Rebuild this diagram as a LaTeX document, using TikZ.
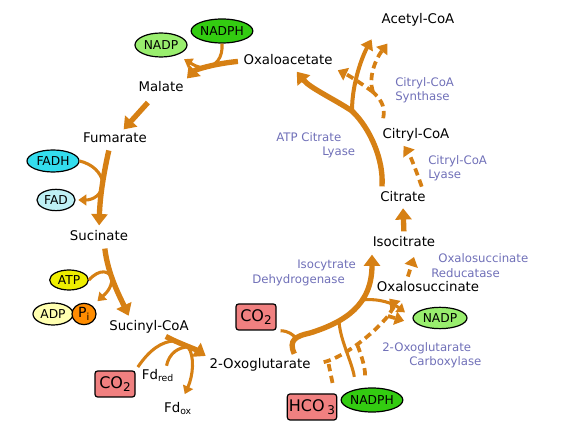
\documentclass[tikz,border=0pt]{standalone}
\usepackage{fontspec}
\setmainfont{DejaVu Sans}
\usetikzlibrary{arrows.meta,shapes.geometric}

\definecolor{pathorange}{RGB}{214,128,20}
\definecolor{enzblue}{RGB}{112,112,184}
\definecolor{nadpgreen}{RGB}{153,238,110}
\definecolor{nadphgreen}{RGB}{51,204,17}
\definecolor{fadhcyan}{RGB}{51,221,238}
\definecolor{fadcyan}{RGB}{190,240,245}
\definecolor{atpyellow}{RGB}{238,238,0}
\definecolor{adpyellow}{RGB}{255,255,176}
\definecolor{piorange}{RGB}{255,140,0}
\definecolor{gasred}{RGB}{240,128,128}

\newcommand{\gassub}[1]{\raisebox{-0.35ex}{\fontsize{9}{9}\selectfont #1}}

\tikzset{
  metab/.style={inner sep=1pt, text height=7pt, text depth=2pt, font=\fontsize{10}{12}\selectfont},
  enzyme/.style={inner sep=0pt, text=enzblue, align=left, font=\fontsize{8.8}{10.5}\selectfont},
  cofac/.style={ellipse, draw, line width=0.9pt, inner sep=0pt, font=\fontsize{9.2}{10}\selectfont},
  gas/.style={draw, rounded corners=2pt, line width=0.9pt, fill=gasred, inner sep=0pt,
    minimum width=30pt, minimum height=19.5pt, font=\fontsize{12}{12}\selectfont},
  mainarr/.style={draw=pathorange, line width=4pt, -{Triangle[width=12pt,length=8.5pt]}},
  midarr/.style={draw=pathorange, line width=3pt, -{Triangle[width=10pt,length=7.5pt]}},
  sideline/.style={draw=pathorange, line width=2.3pt},
  sidearr/.style={sideline, -{Triangle[width=8pt,length=6pt]}},
  altline/.style={draw=pathorange, line width=2.8pt, dash pattern=on 5.5pt off 3.5pt},
  altarr/.style={altline, -{Triangle[width=10pt,length=7pt]}}
}

\begin{document}
\begin{tikzpicture}[x=0.75pt,y=-0.75pt]
\useasboundingbox (0,0) rectangle (562,438);

% metabolites
\node[metab] (acetyl) at (418,20) {Acetyl-CoA};
\node[metab] (oxalo) at (288,61) {Oxaloacetate};
\node[metab] (malate) at (161,88) {Malate};
\node[metab] (fumarate) at (115,139) {Fumarate};
\node[metab] (sucinate) at (99,237) {Sucinate};
\node[metab] (sucinyl) at (149,327) {Sucinyl-CoA};
\node[metab] (oxoglut) at (260,365) {2-Oxoglutarate};
\node[metab] (oxsucc) at (428,288) {Oxalosuccinate};
\node[metab] (isocit) at (404,243) {Isocitrate};
\node[metab] (citrate) at (403,198) {Citrate};
\node[metab] (citryl) at (416,135) {Citryl-CoA};
\node[metab] (fdred) at (158,376) {Fd\textsubscript{red}};
\node[metab] (fdox) at (178,409) {Fd\textsubscript{ox}};

% cofactors
\node[cofac, fill=nadpgreen, minimum width=39pt, minimum height=18pt] (nadpT) at (161,45) {NADP};
\node[cofac, fill=nadphgreen, minimum width=40pt, minimum height=18pt] (nadphT) at (222,31) {NADPH};
\node[cofac, fill=fadhcyan, minimum width=39pt, minimum height=16.5pt] (fadh) at (53,161) {FADH};
\node[cofac, fill=fadcyan, minimum width=28.5pt, minimum height=16pt] (fad) at (56,200) {FAD};
\node[cofac, fill=atpyellow, minimum width=29pt, minimum height=15pt] (atp) at (69,280) {ATP};
\node[cofac, fill=adpyellow, minimum width=30pt, minimum height=16.5pt] (adp) at (53,314) {ADP};
\node[cofac, fill=piorange, minimum width=18pt, minimum height=16pt, font=\fontsize{10.5}{10}\selectfont] (pi) at (84,314) {P\textsubscript{i}};
\node[cofac, fill=nadpgreen, minimum width=40.5pt, minimum height=16pt] (nadpR) at (440,318) {NADP};
\node[cofac, fill=nadphgreen, minimum width=39pt, minimum height=18pt] (nadphB) at (372,400) {NADPH};
\node[gas] (co2a) at (115,384) {CO\gassub{2}};
\node[gas] (co2b) at (256,317) {CO\gassub{2}};
\node[gas, minimum width=37pt] (hco3) at (312,407) {HCO\,\gassub{3}};

% enzymes
\node[enzyme, anchor=west] (acl) at (276,137) {ATP Citrate};
\node[enzyme, anchor=west] (acl2) at (322,152) {Lyase};
\node[enzyme, anchor=west] (ccs) at (395,90) {Citryl-CoA\\Synthase};
\node[enzyme, anchor=west] (ccl) at (428,168) {Citryl-CoA\\Lyase};
\node[enzyme, anchor=west] (idh) at (297,265) {Isocytrate};
\node[enzyme, anchor=west] (idh2) at (252,280) {Dehydrogenase};
\node[enzyme, anchor=west] (osr) at (438,258) {Oxalosuccinate};
\node[enzyme, anchor=west] (osr2) at (431,273) {Reducatase};
\node[enzyme, anchor=west] (ogc) at (382,348) {2-Oxoglutarate};
\node[enzyme, anchor=west] (ogc2) at (409,362) {Carboxylase};

% junctions
\coordinate (jmal) at (205,68);
\coordinate (jfum) at (103,183);
\coordinate (jsuc) at (112,278);
\coordinate (jco2) at (173,341);
\coordinate (jfd) at (188,347);
\coordinate (jiso0) at (296,338);
\coordinate (jiso2) at (339,321);
\coordinate (jiso3) at (362,300);
\coordinate (jalt0) at (328,361);
\coordinate (jalt1) at (357,344);
\coordinate (jalt2) at (388,316);
\coordinate (jacl) at (352,111);
\coordinate (jccs) at (373,92);

% oxaloacetate -> malate
\draw[mainarr, shorten <=3pt, shorten >=2pt] (oxalo.west) .. controls (212,64) and (195,70) .. (malate.north east);
\draw[sideline] (nadphT.south) .. controls (223,58) and (216,66) .. (jmal);
\draw[sidearr, shorten >=6pt] (jmal) .. controls (198,68) and (192,64) .. (nadpT);

% malate -> fumarate -> sucinate
\draw[mainarr, shorten <=7pt, shorten >=2pt] (malate) -- (fumarate);
\draw[mainarr, shorten <=3pt, shorten >=3pt] ([xshift=-4]fumarate.south) .. controls (104,172) and (100,195) .. (sucinate.north);
\draw[sideline] (fadh.east) .. controls (92,164) and (101,172) .. (jfum);
\draw[sidearr, shorten >=2pt] (jfum) .. controls (102,196) and (92,200) .. (fad);

% sucinate -> sucinyl-CoA
\draw[mainarr, shorten <=3pt, shorten >=3pt] ([xshift=4]sucinate.south) .. controls (108,275) and (120,297) .. ([xshift=-14]sucinyl.north);
\draw[sideline] (atp.east) .. controls (100,268) and (109,271) .. (jsuc);
\draw[sidearr, shorten >=5pt] (jsuc) .. controls (112,289) and (104,295) .. (pi);

% sucinyl-CoA -> 2-oxoglutarate
\draw[mainarr, shorten <=3pt, shorten >=2pt] ([xshift=10]sucinyl.south) .. controls (178,343) and (195,349) .. (oxoglut.north west);
\draw[sideline, shorten <=3pt] (co2a.north east) .. controls (150,349) and (162,342) .. (jco2);
\draw[sideline, shorten <=2pt] ([xshift=6]fdred.north) .. controls (169,353) and (179,347) .. (jfd);
\draw[sidearr, shorten >=6pt] (jfd) .. controls (195,356) and (193,376) .. (fdox);

% 2-oxoglutarate -> isocitrate
\draw[mainarr, shorten <=3pt, shorten >=3pt] ([xshift=27]oxoglut.north) .. controls (288,340) and (296,336) .. (310,333)
  .. controls (345,322) and (372,305) .. ([xshift=-24]isocit.south);
\draw[sideline, shorten <=3pt] (co2b.south east) .. controls (289,331) and (293,335) .. (jiso0);
\draw[sideline, shorten <=8pt] ([xshift=-12]nadphB.north) .. controls (352,362) and (340,340) .. (jiso2);
\draw[sidearr, shorten >=7pt] (jiso3) .. controls (380,298) and (394,304) .. (nadpR.west);

% 2-oxoglutarate -> oxalosuccinate -> isocitrate
\draw[altarr, shorten <=9pt, shorten >=3pt] (oxoglut.east) .. controls (345,357) and (375,332) .. (jalt2)
  .. controls (392,310) and (395,305) .. ([xshift=-31]oxsucc.south);
\draw[altline, shorten <=8pt] ([xshift=17]hco3.north) -- (jalt0);
\draw[altline, shorten <=9pt] ([xshift=-5]nadphB.north) .. controls (365,365) and (360,352) .. (jalt1);
\draw[altarr, shorten >=12pt] (jalt2) -- (nadpR.200);
\draw[altarr, shorten <=3pt, shorten >=5pt] ([xshift=-16]oxsucc.north) -- ([xshift=9]isocit.south);

% isocitrate -> citrate
\draw[mainarr, shorten <=3pt, shorten >=2pt] (isocit.north) -- (citrate.south);

% citrate -> oxaloacetate + acetyl-CoA
\draw[mainarr, shorten <=3pt, shorten >=3pt] ([xshift=-16]citrate.north) .. controls (384,160) and (370,128) .. (jacl)
  .. controls (334,99) and (310,88) .. (oxalo);
\draw[midarr, shorten >=10pt] (jacl) .. controls (352,82) and (363,55) .. ([xshift=-30]acetyl.south);

% citrate -> citryl-CoA -> oxaloacetate + acetyl-CoA
\draw[altarr, shorten <=3pt, shorten >=3pt] ([xshift=15]citrate.north) .. controls (416,170) and (410,155) .. ([xshift=-11]citryl.south);
\draw[altline, shorten <=7pt] ([xshift=-26]citryl.north) .. controls (386,105) and (379,98) .. (jccs);
\draw[altarr, shorten >=15pt] (jccs) .. controls (368,78) and (375,60) .. ([xshift=-14]acetyl.south);
\draw[altarr, shorten >=3pt] (jccs) .. controls (362,84) and (350,76) .. (oxalo.south east);
\end{tikzpicture}
\end{document}
